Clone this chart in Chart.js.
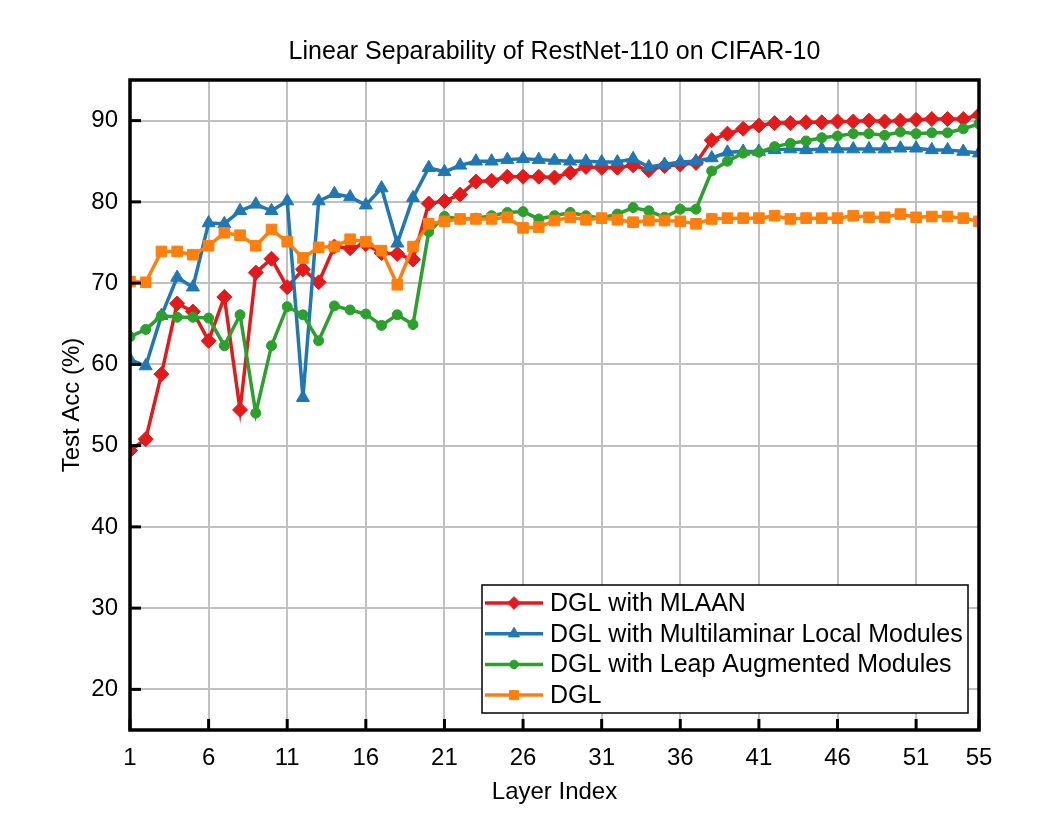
<!DOCTYPE html>
<html>
<head>
<meta charset="utf-8">
<title>Linear Separability of RestNet-110 on CIFAR-10</title>
<script src="https://cdn.jsdelivr.net/npm/chart.js@4.4.1/dist/chart.umd.min.js"></script>
<style>
  html, body { margin: 0; padding: 0; background: #fff; }
  #wrap { width: 1062px; height: 827px; }
</style>
</head>
<body>
<div id="wrap"><canvas id="accChart" width="1062" height="827"></canvas></div>
<script>
// Layer indices (x axis)
const layers = [1, 2, 3, 4, 5, 6, 7, 8, 9, 10, 11, 12, 13, 14, 15, 16, 17, 18, 19, 20,
  21, 22, 23, 24, 25, 26, 27, 28, 29, 30, 31, 32, 33, 34, 35, 36, 37, 38, 39, 40,
  41, 42, 43, 44, 45, 46, 47, 48, 49, 50, 51, 52, 53, 54, 55];

const xTicks = [1, 6, 11, 16, 21, 26, 31, 36, 41, 46, 51, 55];
const yTicks = [20, 30, 40, 50, 60, 70, 80, 90];

const chartTitle = "Linear Separability of RestNet-110 on CIFAR-10";

// Test accuracy (%)
const mlaan = [49.4, 50.8, 58.8, 67.5, 66.5, 62.9, 68.3, 54.4, 71.3, 73.0,
  69.5, 71.7, 70.1, 74.5, 74.3, 74.8, 73.7, 73.6, 72.9, 79.8,
  80.1, 80.9, 82.5, 82.6, 83.1, 83.1, 83.1, 83.0, 83.6, 84.3,
  84.2, 84.2, 84.5, 83.9, 84.4, 84.6, 84.8, 87.6, 88.4, 89.0,
  89.4, 89.7, 89.7, 89.8, 89.8, 89.9, 89.9, 90.0, 89.9, 90.0,
  90.1, 90.2, 90.2, 90.2, 90.7];

const multilaminar = [60.6, 59.8, 66.0, 70.7, 69.5, 77.4, 77.3, 78.9, 79.7, 78.9,
  80.1, 55.9, 80.1, 81.0, 80.6, 79.6, 81.7, 74.9, 80.5, 84.2,
  83.7, 84.5, 85.0, 85.0, 85.2, 85.3, 85.2, 85.1, 85.0, 85.0,
  84.9, 84.9, 85.3, 84.3, 84.6, 84.9, 85.0, 85.4, 86.1, 86.2,
  86.2, 86.4, 86.5, 86.4, 86.5, 86.5, 86.5, 86.5, 86.5, 86.6,
  86.6, 86.4, 86.4, 86.2, 86.0];

const leapAug = [63.4, 64.3, 66.0, 65.8, 65.8, 65.7, 62.3, 66.1, 54.0, 62.3,
  67.1, 66.1, 62.9, 67.2, 66.7, 66.2, 64.8, 66.1, 64.9, 76.3,
  78.2, 77.9, 78.0, 78.3, 78.7, 78.8, 77.9, 78.3, 78.7, 78.3,
  78.0, 78.5, 79.3, 78.9, 78.1, 79.1, 79.1, 83.8, 85.0, 86.0,
  86.1, 86.8, 87.2, 87.5, 87.9, 88.1, 88.4, 88.4, 88.2, 88.6,
  88.4, 88.5, 88.5, 89.0, 89.6];

const dgl = [70.2, 70.1, 73.9, 73.9, 73.5, 74.6, 76.2, 75.9, 74.6, 76.6,
  75.1, 73.1, 74.4, 74.5, 75.4, 75.1, 74.0, 69.8, 74.5, 77.3,
  77.6, 77.9, 77.9, 77.9, 78.1, 76.8, 76.9, 77.7, 78.1, 77.8,
  78.0, 77.8, 77.5, 77.7, 77.7, 77.6, 77.3, 77.9, 78.0, 78.0,
  78.0, 78.3, 77.9, 78.0, 78.0, 78.0, 78.3, 78.1, 78.1, 78.5,
  78.1, 78.2, 78.2, 78.0, 77.6];

const FONT = "'Liberation Sans', Arial, sans-serif";

function toPoints(vals) {
  return vals.map((v, i) => ({ x: layers[i], y: v }));
}

function makeSeries(label, vals, color, style, radius, order) {
  return {
    label: label,
    data: toPoints(vals),
    borderColor: color,
    backgroundColor: color,
    borderWidth: 3.5,
    pointStyle: style,
    pointRadius: radius,
    pointHoverRadius: radius,
    pointBorderWidth: 1,
    tension: 0,
    clip: 0,
    order: order
  };
}

// title over the plot, frame, inward ticks and boxed legend inside the plot
const framePlugin = {
  id: "frame",
  afterDraw(chart) {
    const { ctx, chartArea: a, scales } = chart;
    ctx.save();

    ctx.fillStyle = "#000";
    ctx.font = "25px " + FONT;
    ctx.textAlign = "center";
    ctx.textBaseline = "middle";
    ctx.fillText(chartTitle, (a.left + a.right) / 2, 52);

    ctx.strokeStyle = "#000";
    ctx.lineWidth = 3;
    ctx.lineCap = "butt";
    xTicks.forEach(t => {
      const px = scales.x.getPixelForValue(t);
      ctx.beginPath();
      ctx.moveTo(px, a.bottom);
      ctx.lineTo(px, a.bottom - 11);
      ctx.stroke();
    });
    yTicks.forEach(t => {
      const py = scales.y.getPixelForValue(t);
      ctx.beginPath();
      ctx.moveTo(a.left, py);
      ctx.lineTo(a.left + 11, py);
      ctx.stroke();
    });
    ctx.lineWidth = 3.5;
    ctx.strokeRect(a.left, a.top, a.right - a.left, a.bottom - a.top);

    // legend
    const bx = 482, by = 585, bw = 486, bh = 128;
    ctx.fillStyle = "#fff";
    ctx.fillRect(bx, by, bw, bh);
    ctx.strokeStyle = "#000";
    ctx.lineWidth = 1.5;
    ctx.strokeRect(bx, by, bw, bh);
    ctx.font = "25px " + FONT;
    ctx.textBaseline = "middle";
    ctx.textAlign = "left";
    chart.data.datasets.forEach((ds, i) => {
      const cy = by + 18 + i * 30.7;
      ctx.strokeStyle = ds.borderColor;
      ctx.fillStyle = ds.borderColor;
      ctx.lineWidth = 3.5;
      ctx.beginPath();
      ctx.moveTo(bx + 3, cy);
      ctx.lineTo(bx + 61, cy);
      ctx.stroke();
      ctx.lineWidth = 1;
      Chart.helpers.drawPoint(ctx, {
        pointStyle: ds.pointStyle,
        radius: ds.pointRadius * 0.85,
        rotation: 0,
        borderWidth: 1
      }, bx + 32, cy);
      ctx.fillStyle = "#000";
      ctx.fillText(ds.label, bx + 68, cy + 1);
    });
    ctx.restore();
  }
};

const ctx = document.getElementById("accChart").getContext("2d");

new Chart(ctx, {
  type: "line",
  data: {
    datasets: [
      makeSeries("DGL with MLAAN", mlaan, "#e31a1c", "rectRot", 7.5, 3),
      makeSeries("DGL with Multilaminar Local Modules", multilaminar, "#1f77b4", "triangle", 7.5, 2),
      makeSeries("DGL with Leap Augmented Modules", leapAug, "#2ca02c", "circle", 5, 1),
      makeSeries("DGL", dgl, "#ff7f0e", "rect", 7.5, 0)
    ]
  },
  options: {
    responsive: false,
    animation: false,
    layout: { padding: { left: 0, right: 83, top: 80, bottom: 0 } },
    plugins: {
      legend: { display: false },
      tooltip: { enabled: false },
      title: { display: false }
    },
    scales: {
      x: {
        type: "linear",
        min: 1,
        max: 55,
        afterBuildTicks(scale) {
          scale.ticks = xTicks.map(v => ({ value: v }));
        },
        afterFit(scale) { scale.height = 97; },
        grid: { color: "#c0c0c0", lineWidth: 2, drawTicks: false },
        border: { display: false },
        ticks: {
          color: "#000",
          padding: 14,
          maxRotation: 0,
          autoSkip: false,
          font: { family: FONT, size: 24 }
        },
        title: {
          display: true,
          text: "Layer Index",
          color: "#000",
          font: { family: FONT, size: 24, lineHeight: 1.2 },
          padding: { top: 0, bottom: 20 }
        }
      },
      y: {
        min: 15,
        max: 95,
        afterBuildTicks(scale) {
          scale.ticks = yTicks.map(v => ({ value: v }));
        },
        afterFit(scale) { scale.width = 130; },
        grid: { color: "#c0c0c0", lineWidth: 2, drawTicks: false },
        border: { display: false },
        ticks: {
          color: "#000",
          padding: 12,
          font: { family: FONT, size: 24 }
        },
        title: {
          display: true,
          text: "Test Acc (%)",
          color: "#000",
          font: { family: FONT, size: 24, lineHeight: 1.2 },
          padding: { top: 58, bottom: 0 }
        }
      }
    }
  },
  plugins: [framePlugin]
});
</script>
</body>
</html>
